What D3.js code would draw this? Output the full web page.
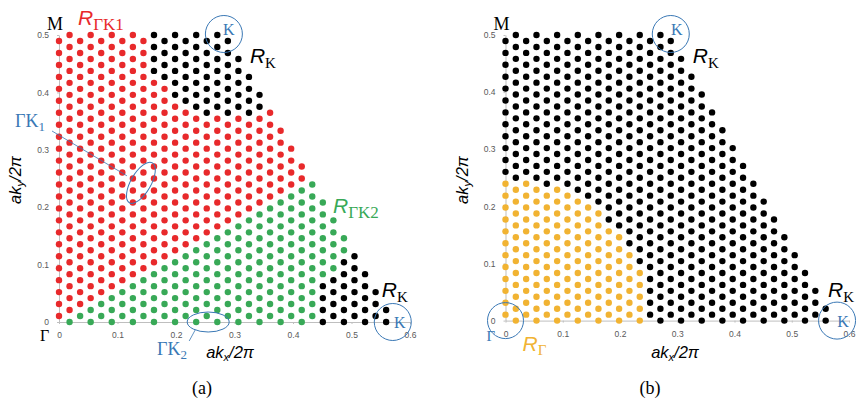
<!DOCTYPE html>
<html>
<head>
<meta charset="utf-8">
<script src="https://cdn.jsdelivr.net/npm/d3@7"></script>
<style>
  body { margin: 0; background: #fff; }
  svg { display: block; }
  .axis .tick text { font-family: "Liberation Sans", Arial, sans-serif; font-size: 8.5px; fill: #595959; }
  .axis path, .axis line { stroke: #bfbfbf; }
  .serif { font-family: "Liberation Serif", "Times New Roman", serif; }
  .sans { font-family: "Liberation Sans", Arial, sans-serif; }
</style>
</head>
<body>
<div id="vis"></div>
<script>
const kxTicks = [0, 0.1, 0.2, 0.3, 0.4, 0.5, 0.6];
const kyTicks = [0, 0.1, 0.2, 0.3, 0.4, 0.5];

// mesh spacing in ak/2pi: columns along kx, rows along ky (even columns sit half a row up)
const colStep = 0.01804;
const rowStep = 0.02083;

// dots per column, from the Γ-M line (kx = 0) out to K
const colCount = [24,25,24,25,24,25,24,25,24,25,24,25,24,25,24,25,24,23,21,20,18,17,15,14,12,11,9,8,6,5,3,2];

// (a) dots per column stacked bottom -> top: R_K (lower K), R_ΓK2, R_ΓK1, R_K (upper K)
const aKLow  = [0,0,0,0,0,0,0,0,0,0,0,0,0,0,0,0,0,0,0,0,0,0,0,0,0,4,4,6,6,5,3,2];
const aGreen = [0,1,1,2,2,3,3,4,4,5,5,6,6,7,7,8,8,9,9,10,10,11,11,12,12,7,5,2,0,0,0,0];
const aRed   = [24,24,23,23,22,22,21,21,20,16,15,13,12,11,10,10,9,9,8,8,8,6,4,2,0,0,0,0,0,0,0,0];
const aKHigh = [0,0,0,0,0,0,0,0,0,4,4,6,6,7,7,7,7,5,4,2,0,0,0,0,0,0,0,0,0,0,0,0];

// (b) R_Γ dots per column from the bottom, the rest is black
const bGamma = [12,12,12,12,11,12,11,11,10,10,8,8,6,5,0,0,0,0,0,0,0,0,0,0,0,0,0,0,0,0,0,0];

// high-symmetry points
const ptK1 = [0.2887, 0.5];
const ptK2 = [0.5774, 0];
const ptG = [0, 0];

const red = '#e8292b', green = '#38a957', yellow = '#f1b332', black = '#000', blue = '#3a78b5';

function mesh(stacks) {
  const pts = [];
  colCount.forEach((n, i) => {
    let j = 0;
    stacks.forEach(([counts, colour]) => {
      for (let c = 0; c < counts[i]; c++, j++) {
        pts.push({ kx: i * colStep, ky: (j + (i % 2 ? 0 : 0.5)) * rowStep, colour });
      }
    });
  });
  return pts;
}

const bRest = colCount.map((n, i) => n - bGamma[i]);

const panels = [
  { name: '(a)', left: 59, right: 410, bottom: 322, top: 35, nameX: 202, titleX: 230, rkLow: -15,
    dots: mesh([[aKLow, black], [aGreen, green], [aRed, red], [aKHigh, black]]) },
  { name: '(b)', left: 505.5, right: 849, bottom: 320.6, top: 35, nameX: 650, titleX: 675, rkLow: -8,
    dots: mesh([[bGamma, yellow], [bRest, black]]) }
];

const $svg = d3.select('#vis').append('svg')
  .attr('width', 856)
  .attr('height', 403);

// text with an optional subscript, pieces: [text, class, size, italic, dy]
function rich(g, x, y, pieces, fill, anchor) {
  const t = g.append('text')
    .attr('x', x)
    .attr('y', y)
    .attr('fill', fill)
    .attr('text-anchor', anchor || 'start');
  pieces.forEach(p => {
    t.append('tspan')
      .attr('class', p[1])
      .attr('font-size', p[2])
      .attr('font-style', p[3] ? 'italic' : 'normal')
      .attr('dy', p[4] || 0)
      .text(p[0]);
  });
  return t;
}

function axisTitle(g, x, y, sub, rotate) {
  const t = rich(g, 0, 0, [
    ['ak', 'sans', 16.5, true],
    [sub, 'sans', 11, true, 3],
    ['/2π', 'sans', 16.5, true, -3]
  ], black, 'middle');
  t.attr('transform', `translate(${x}, ${y})` + (rotate ? ' rotate(-90)' : ''));
}

panels.forEach((p, k) => {
  const x = d3.scaleLinear().domain([0, 0.6]).range([p.left, p.right]);
  const y = d3.scaleLinear().domain([0, 0.5]).range([p.bottom, p.top]);
  const g = $svg.append('g');

  g.append('g')
    .attr('class', 'axis')
    .attr('transform', `translate(0, ${p.bottom})`)
    .call(d3.axisBottom(x).tickValues(kxTicks).tickFormat(d => d).tickSizeInner(2).tickSizeOuter(0).tickPadding(8));

  g.append('g')
    .attr('class', 'axis')
    .attr('transform', `translate(${p.left}, 0)`)
    .call(d3.axisLeft(y).tickValues(kyTicks).tickFormat(d => d).tickSizeInner(2).tickSizeOuter(0).tickPadding(8));

  g.append('g')
    .selectAll('circle')
    .data(p.dots)
    .join('circle')
    .attr('cx', d => x(d.kx))
    .attr('cy', d => y(d.ky))
    .attr('r', 3.2)
    .attr('fill', d => d.colour);

  // blue circles round K points
  const ring = (pt, dx, dy, r) => g.append('circle')
    .attr('cx', x(pt[0]) + dx)
    .attr('cy', y(pt[1]) + dy)
    .attr('r', r)
    .attr('fill', 'none')
    .attr('stroke', blue)
    .attr('stroke-width', 1);

  ring(ptK1, k ? 0 : -4, -1, 18.5);
  ring(ptK2, k ? 1 : -4, 0, 18.5);
  rich(g, x(ptK1[0]) + (k ? 6 : 1), y(ptK1[1]), [['K', 'serif', 16]], blue, 'middle').attr('dy', 1);
  rich(g, x(ptK2[0]) + (k ? 7 : 3), y(ptK2[1]) + 6, [['K', 'serif', 16]], blue, 'middle');

  rich(g, x(0) - 4, 30, [['M', 'serif', 18]], black, 'middle');

  rich(g, x(ptK1[0]) + 22, 63, [['R', 'sans', 21, true], ['K', 'serif', 15, false, 5]], black);
  rich(g, x(ptK2[0]) + p.rkLow, 297, [['R', 'sans', 21, true], ['K', 'serif', 15, false, 5]], black);

  axisTitle(g, p.titleX, 358, 'x', false);
  axisTitle(g, p.left - 38, 180, 'y', true);

  rich(g, p.nameX, 394, [[p.name, 'serif', 18]], black, 'middle');

  if (k === 0) {
    rich(g, 40, 341, [['Γ', 'serif', 16]], black);
    rich(g, 78, 25, [['R', 'sans', 21, true], ['ΓK1', 'serif', 17, false, 5]], red);
    rich(g, 333, 213, [['R', 'sans', 21, true], ['ΓK2', 'serif', 17, false, 5]], green);

    // ΓK1 marker along the 60° line
    const e1 = [x(0.14), y(0.2425)];
    g.append('ellipse')
      .attr('transform', `translate(${e1[0]}, ${e1[1]}) rotate(-60)`)
      .attr('rx', 23).attr('ry', 10)
      .attr('fill', 'none').attr('stroke', blue);
    g.append('line')
      .attr('x1', 52).attr('y1', 131)
      .attr('x2', e1[0] - 14).attr('y2', e1[1] - 7)
      .attr('stroke', blue).attr('stroke-opacity', 0.8);
    rich(g, 15, 127, [['ΓK', 'serif', 18], ['1', 'serif', 13, false, 4]], blue);

    // ΓK2 marker on the kx axis
    const e2 = [x(0.255), y(0)];
    g.append('ellipse')
      .attr('cx', e2[0]).attr('cy', e2[1])
      .attr('rx', 21).attr('ry', 10)
      .attr('fill', 'none').attr('stroke', blue);
    g.append('line')
      .attr('x1', e2[0] - 13).attr('y1', e2[1] + 8)
      .attr('x2', e2[0] - 19).attr('y2', e2[1] + 19)
      .attr('stroke', blue).attr('stroke-opacity', 0.8);
    rich(g, 157, 355, [['ΓK', 'serif', 18], ['2', 'serif', 13, false, 4]], blue);
  } else {
    ring(ptG, 0, 0, 18);
    rich(g, x(0) - 19, 341, [['Γ', 'serif', 15]], blue);
    rich(g, x(0) + 17, 351, [['R', 'sans', 21, true], ['Γ', 'serif', 15, false, 4]], yellow);
  }
});
</script>
</body>
</html>
